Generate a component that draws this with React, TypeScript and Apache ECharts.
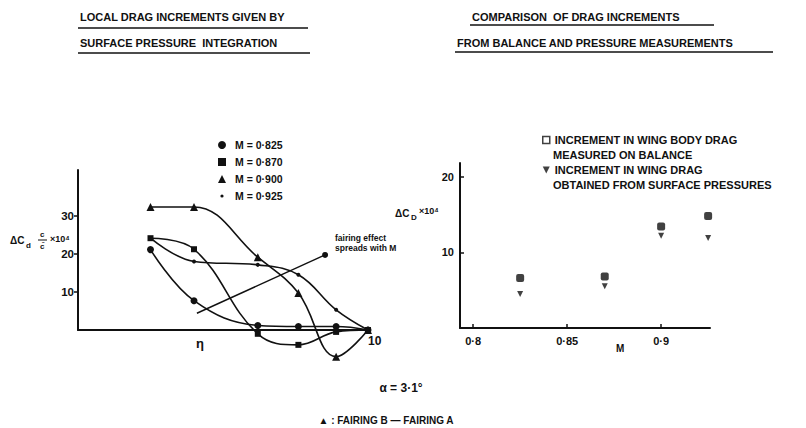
import React, { useEffect, useRef } from 'react';
import * as echarts from 'echarts';

// ---- Left panel: local drag increments vs spanwise station ----
const etaValues = [0.25, 0.4, 0.62, 0.76, 0.89, 1.0];
const leftSeriesNames = ['M = 0·825', 'M = 0·870', 'M = 0·900', 'M = 0·925'];
const m0825 = [21.1, 7.7, 1.2, 0.9, 0.9, 0];
const m0870 = [24.1, 21.2, -1.0, -3.9, -0.5, 0];
const m0900 = [32.3, 32.3, 19.1, 9.7, -7.0, 0];
const m0925 = [24.1, 18.0, 17.1, 14.5, 5.3, 0];
const leftSeriesValues = [m0825, m0870, m0900, m0925];
const arrowEta = [0.41, 0.852];
const arrowValue = [4.4, 19.7];
const leftYTicks = [10, 20, 30];
const leftXTicks = [1];
const leftXTickLabels = ['10'];

// ---- Right panel: balance vs pressure increments ----
const machValues = [0.825, 0.87, 0.9, 0.925];
const balanceValues = [6.6, 6.8, 13.4, 14.8];
const pressureValues = [4.5, 5.5, 12.2, 11.9];
const rightSeriesNames = ['INCREMENT IN WING BODY DRAG', 'INCREMENT IN WING DRAG'];
const rightXTicks = [0.8, 0.85, 0.9];
const rightXTickLabels = ['0·8', '0·85', '0·9'];
const rightYTicks = [10, 20];

const INK = '#111';
const FONT = '"Liberation Sans", Arial, sans-serif';

const symbols = ['circle', 'rect', 'triangle', 'circle'];
const symbolSizes = [7, 6, 8, 4];
const legendIcons = [
  'circle',
  'rect',
  'triangle',
  'path://M0,0M10,10M3,5a2,2 0 1,0 4,0a2,2 0 1,0 -4,0Z',
];

function txt(text: string, x: number, y: number, size: number, extra: any = {}) {
  return {
    type: 'text',
    x,
    y,
    style: {
      text,
      fill: INK,
      font: `bold ${size}px ${FONT}`,
      textVerticalAlign: 'middle',
      ...extra,
    },
  };
}

function hline(x1: number, x2: number, y: number, w = 1.5) {
  return {
    type: 'line',
    shape: { x1, y1: y, x2, y2: y },
    style: { stroke: INK, lineWidth: w },
  };
}

export default function App() {
  const ref = useRef<HTMLDivElement>(null);

  useEffect(() => {
    if (!ref.current) return;
    const chart = echarts.init(ref.current, null, { renderer: 'svg' });

    const leftSeries = leftSeriesNames.map((name, i) => ({
      name,
      type: 'line',
      xAxisIndex: 0,
      yAxisIndex: 0,
      smooth: 0.4,
      clip: false,
      symbol: symbols[i],
      symbolSize: symbolSizes[i],
      showAllSymbol: true,
      itemStyle: { color: INK },
      lineStyle: { color: INK, width: 1.6 },
      data: etaValues.map((e, k) => [e, leftSeriesValues[i][k]]),
      z: 3,
    }));

    const arrowSeries = {
      name: 'fairing effect',
      type: 'line',
      xAxisIndex: 0,
      yAxisIndex: 0,
      clip: false,
      itemStyle: { color: INK },
      lineStyle: { color: INK, width: 1.4 },
      data: arrowEta.map((e, k) => ({
        value: [e, arrowValue[k]],
        symbol: k === arrowEta.length - 1 ? 'circle' : 'none',
        symbolSize: 6,
      })),
    };

    const option: any = {
      animation: false,
      backgroundColor: '#fff',
      textStyle: { fontFamily: FONT, color: INK },
      legend: [
        {
          data: leftSeriesNames.map((n, i) => ({ name: n, icon: legendIcons[i] })),
          orient: 'vertical',
          left: 218,
          top: 139,
          padding: 0,
          itemGap: 5,
          itemWidth: 8,
          itemHeight: 8,
          selectedMode: false,
          textStyle: { fontSize: 10.5, fontWeight: 'bold', color: INK, lineHeight: 12, fontFamily: FONT, padding: [0, 0, 0, 4] },
        },
        {
          data: [
            { name: rightSeriesNames[0], icon: 'rect', itemStyle: { color: '#fff', borderColor: INK, borderWidth: 1.5 } },
            { name: rightSeriesNames[1], icon: 'path://M0,0L10,0L5,10Z' },
          ],
          orient: 'vertical',
          left: 542,
          top: 134,
          padding: 0,
          itemGap: 18,
          itemWidth: 7,
          itemHeight: 7,
          selectedMode: false,
          textStyle: { fontSize: 11, fontWeight: 'bold', color: INK, lineHeight: 12, fontFamily: FONT },
        },
      ],
      grid: [
        { left: 78, top: 170, width: 290, height: 160 },
        { left: 460, top: 163, width: 250, height: 165 },
      ],
      xAxis: [
        {
          gridIndex: 0,
          type: 'value',
          min: 0,
          max: 1,
          splitLine: { show: false },
          axisLine: { lineStyle: { color: INK, width: 2 } },
          axisTick: { show: false },
          axisLabel: {
            customValues: leftXTicks,
            formatter: (v: number) => leftXTickLabels[leftXTicks.indexOf(v)] ?? '',
            color: INK,
            fontSize: 12,
            fontWeight: 'bold',
            margin: 5,
            align: 'left',
          },
        },
        {
          gridIndex: 1,
          type: 'value',
          min: 0.793,
          max: 0.926,
          splitLine: { show: false },
          axisLine: { lineStyle: { color: INK, width: 2 } },
          axisTick: { customValues: rightXTicks, inside: true, length: 4, lineStyle: { color: INK, width: 1.5 } },
          axisLabel: {
            customValues: rightXTicks,
            formatter: (v: number) => {
              const idx = rightXTicks.findIndex((t) => Math.abs(t - v) < 1e-6);
              return idx >= 0 ? rightXTickLabels[idx] : '';
            },
            color: INK,
            fontSize: 11,
            fontWeight: 'bold',
            margin: 7,
          },
        },
      ],
      yAxis: [
        {
          gridIndex: 0,
          type: 'value',
          min: 0,
          max: 42,
          splitLine: { show: false },
          axisLine: { show: true, lineStyle: { color: INK, width: 2 } },
          axisTick: { show: true, customValues: leftYTicks, length: 4, lineStyle: { color: INK, width: 1.5 } },
          axisLabel: { customValues: leftYTicks, color: INK, fontSize: 11.5, fontWeight: 'bold', margin: 4 },
        },
        {
          gridIndex: 1,
          type: 'value',
          min: 0,
          max: 21.8,
          splitLine: { show: false },
          axisLine: { show: true, lineStyle: { color: INK, width: 2 } },
          axisTick: { show: true, customValues: rightYTicks, inside: true, length: 4, lineStyle: { color: INK, width: 1.5 } },
          axisLabel: { customValues: rightYTicks, color: INK, fontSize: 11, fontWeight: 'bold', margin: 6 },
        },
      ],
      series: [
        ...leftSeries,
        arrowSeries,
        {
          name: rightSeriesNames[0],
          type: 'scatter',
          xAxisIndex: 1,
          yAxisIndex: 1,
          symbol: 'roundRect',
          symbolSize: 8,
          itemStyle: { color: INK },
          data: machValues.map((m, k) => [m, balanceValues[k]]),
        },
        {
          name: rightSeriesNames[1],
          type: 'scatter',
          xAxisIndex: 1,
          yAxisIndex: 1,
          symbol: 'triangle',
          symbolRotate: 180,
          symbolSize: 6,
          itemStyle: { color: INK },
          data: machValues.map((m, k) => [m, pressureValues[k]]),
        },
      ],
      graphic: [
        // Titles
        txt('LOCAL DRAG INCREMENTS GIVEN BY', 80, 17, 11),
        hline(78, 308, 28),
        txt('SURFACE PRESSURE  INTEGRATION', 80, 43, 11),
        hline(78, 310, 53),
        txt('COMPARISON  OF DRAG INCREMENTS', 472, 17, 11),
        hline(470, 714, 25),
        txt('FROM BALANCE AND PRESSURE MEASUREMENTS', 457, 43, 11),
        hline(455, 773, 52),
        // Left axis names
        txt('η', 196, 343, 13),
        txt('ΔC', 10, 240, 10),
        txt('d', 26, 245, 8),
        txt('c', 40, 234, 8),
        hline(38, 47, 240, 1),
        txt('c̄', 40, 246, 8),
        txt('×10⁴', 50, 239, 9),
        // Fairing annotation
        txt('fairing effect', 335, 238, 8.5),
        txt('spreads with M', 335, 248, 8.5),
        // Right axis names
        txt('ΔC', 395, 213, 10),
        txt('D', 411, 217, 8),
        txt('×10⁴', 419, 211, 9),
        txt('M', 616, 348, 10),
        // Legend continuation lines
        txt('MEASURED ON BALANCE', 553, 155, 11),
        txt('OBTAINED FROM SURFACE PRESSURES', 553, 185, 11),
        // Bottom captions
        txt('α = 3·1°', 401, 388, 12, { textAlign: 'center' }),
        txt('▲ : FAIRING B — FAIRING A', 386, 420, 10, { textAlign: 'center' }),
      ],
    };

    chart.setOption(option);
    return () => chart.dispose();
  }, []);

  return (
    <div
      ref={ref}
      style={{ position: 'fixed', left: 0, top: 0, width: 806, height: 428, background: '#fff' }}
    />
  );
}
